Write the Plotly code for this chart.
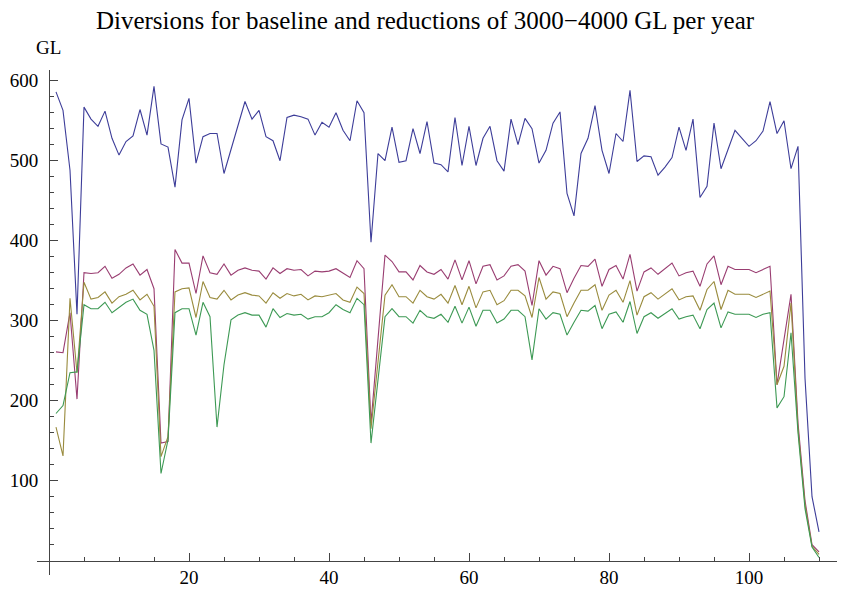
import plotly.graph_objects as go

years = list(range(1, 111))

baseline = [586, 563, 488, 308, 567, 552, 543, 562, 528, 507, 524, 531, 564, 532, 593, 521, 517, 467, 551, 578,
            497, 530, 534, 534, 484, 515, 543, 574, 552, 563, 530, 525, 500, 554, 557, 555, 552, 532, 548, 542,
            560, 538, 525, 575, 560, 398, 509, 500, 542, 498, 500, 540, 509, 549, 497, 495, 486, 554, 494, 543,
            494, 528, 543, 500, 487, 552, 520, 553, 540, 497, 513, 547, 561, 459, 431, 509, 528, 569, 513, 484,
            534, 524, 588, 499, 506, 505, 482, 492, 504, 542, 513, 552, 454, 468, 547, 490, 514, 538, 528, 518,
            525, 537, 574, 534, 550, 490, 518, 228, 80, 36]

red3000 = [261, 260, 310, 202, 360, 359, 360, 368, 353, 358, 366, 371, 357, 364, 340, 147, 149, 389, 372, 372,
           334, 381, 360, 358, 371, 357, 363, 366, 363, 362, 352, 366, 359, 365, 363, 364, 356, 362, 361, 362,
           365, 359, 354, 375, 365, 172, 277, 382, 374, 361, 361, 351, 369, 361, 358, 364, 352, 376, 351, 375,
           346, 368, 370, 351, 356, 368, 370, 362, 319, 375, 357, 368, 365, 335, 353, 369, 368, 377, 343, 364,
           369, 352, 383, 337, 361, 366, 358, 365, 372, 356, 360, 362, 343, 371, 381, 345, 368, 364, 364, 364,
           360, 364, 368, 220, 276, 333, 172, 75, 20, 11]

red3500 = [167, 131, 328, 235, 348, 327, 329, 336, 322, 330, 333, 338, 326, 333, 318, 130, 155, 336, 340, 341,
           304, 349, 329, 327, 338, 326, 332, 335, 332, 331, 322, 335, 328, 334, 331, 333, 326, 331, 330, 332,
           334, 326, 323, 342, 334, 165, 250, 332, 345, 330, 330, 322, 338, 330, 327, 333, 322, 344, 320, 343,
           316, 336, 338, 320, 325, 338, 338, 331, 304, 354, 327, 336, 334, 305, 322, 338, 338, 345, 313, 332,
           338, 323, 350, 307, 330, 335, 327, 334, 340, 326, 330, 331, 313, 339, 349, 314, 338, 333, 333, 333,
           329, 333, 337, 220, 243, 322, 165, 70, 18, 8]

red4000 = [184, 194, 235, 236, 320, 315, 315, 323, 310, 316, 323, 327, 313, 308, 263, 109, 151, 310, 315, 315,
           282, 323, 305, 167, 245, 301, 307, 310, 307, 307, 292, 315, 304, 309, 307, 308, 302, 305, 305, 310,
           320, 314, 310, 328, 320, 147, 226, 305, 315, 305, 305, 297, 313, 305, 303, 308, 298, 318, 297, 317,
           293, 313, 313, 297, 302, 313, 313, 305, 251, 315, 302, 310, 308, 282, 298, 313, 312, 319, 290, 308,
           311, 298, 324, 284, 305, 310, 303, 309, 315, 302, 305, 307, 290, 314, 322, 291, 311, 308, 308, 308,
           304, 308, 310, 191, 205, 285, 160, 65, 17, 4]

series = [baseline, red3000, red3500, red4000]
names = ["Baseline", "3000 GL", "3500 GL", "4000 GL"]
colors = ["#3d3d99", "#993d71", "#998b3d", "#3d9954"]

x_ticks = [20, 40, 60, 80, 100]
y_ticks = [100, 200, 300, 400, 500, 600]

title_text = "Diversions for baseline and reductions of 3000\u22124000 GL per year"

fig = go.Figure()
for vals, nm, col in zip(series, names, colors):
    fig.add_trace(go.Scatter(x=years, y=vals, mode="lines", name=nm,
                             line=dict(color=col, width=1.1)))

xmin, xmax = -1.714, 112.57
ymin, ymax = -17.9, 613.4
font = "Liberation Serif, Times New Roman, serif"
tick_font = dict(family=font, size=19, color="black")

fig.update_layout(
    width=850, height=591,
    margin=dict(l=37, r=13, t=70, b=16, autoexpand=False),
    paper_bgcolor="white", plot_bgcolor="white",
    showlegend=False,
    font=dict(family=font, size=19, color="black"),
    title=dict(text=title_text, x=0.5, xanchor="center", y=0.965, yanchor="middle",
               font=dict(family=font, size=25, color="black")),
    xaxis=dict(range=[xmin, xmax], showgrid=False, zeroline=False, automargin=False,
               showline=True, linecolor="#444", linewidth=1,
               anchor="free", position=(0 - ymin) / (ymax - ymin),
               ticks="inside", ticklen=8, tickcolor="#444", tickwidth=1,
               ticklabelstandoff=0,
               tickvals=x_ticks, ticktext=[str(v) for v in x_ticks],
               minor=dict(tickvals=[v for v in range(5, 111, 5) if v not in x_ticks],
                          ticks="inside", ticklen=4, tickcolor="#444", tickwidth=1),
               tickfont=tick_font),
    yaxis=dict(range=[ymin, ymax], showgrid=False, zeroline=False, automargin=False,
               showline=True, linecolor="#444", linewidth=1,
               anchor="free", position=(0 - xmin) / (xmax - xmin),
               ticks="inside", ticklen=8, tickcolor="#444", tickwidth=1,
               ticklabelstandoff=7,
               tickvals=y_ticks, ticktext=[str(v) for v in y_ticks],
               minor=dict(tickvals=[v for v in range(20, 601, 20) if v not in y_ticks],
                          ticks="inside", ticklen=4, tickcolor="#444", tickwidth=1),
               tickfont=tick_font),
    annotations=[dict(text="GL", xref="paper", yref="paper",
                      x=(48 - 37) / 800, y=(575 - 48) / 505,
                      xanchor="center", yanchor="middle", showarrow=False,
                      font=dict(family=font, size=19, color="black"))],
)

fig.write_html("out.html")
